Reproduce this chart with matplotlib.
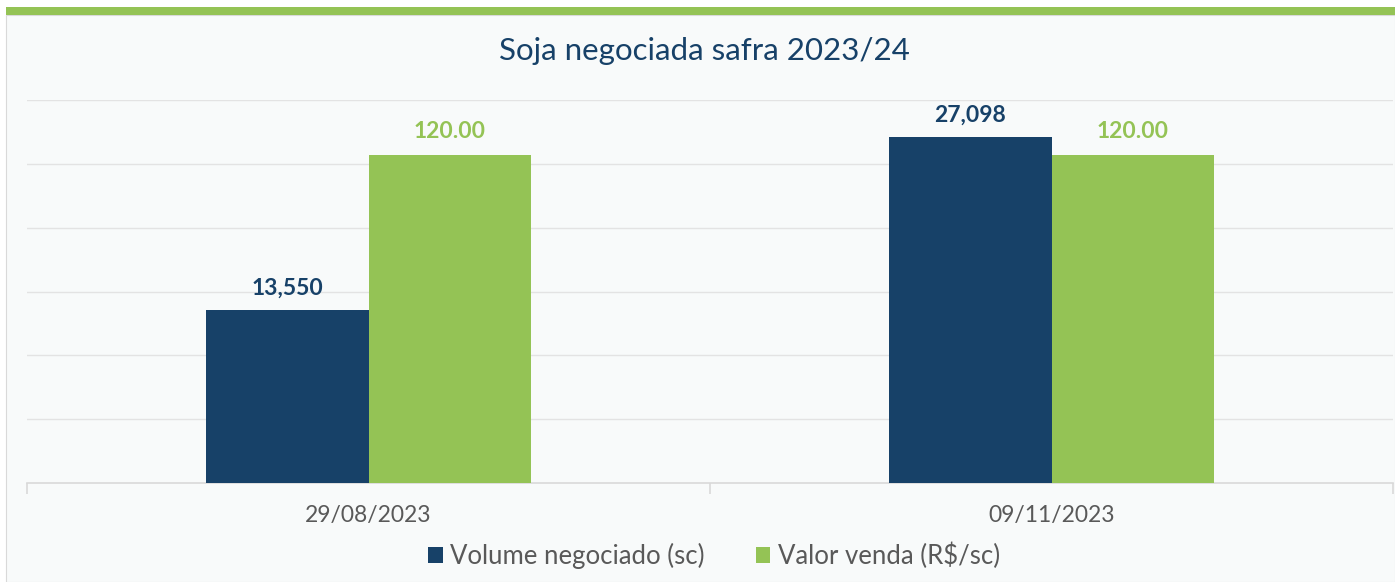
import numpy as np
import matplotlib.pyplot as plt
from matplotlib.patches import Rectangle

# данные
datas = ["29/08/2023", "09/11/2023"]
volume = [13550, 27098]
valor = [120.00, 120.00]
vol_labels = ["13,550", "27,098"]
val_labels = ["120.00", "120.00"]

azul = "#174168"
verde = "#94c355"

plt.rcParams['font.family'] = ['Lato', 'DejaVu Sans']

fig = plt.figure(figsize=(13.95, 5.82), dpi=100)
fig.patch.set_facecolor("white")

# фон панели и зелёная полоса сверху
fig.patches.append(Rectangle((6/1395, 0), 1 - 6/1395, 1 - 15/582, transform=fig.transFigure,
                             facecolor="#f8fafa", edgecolor="#d9d9d9", lw=0.8, zorder=-2))
fig.patches.append(Rectangle((6/1395, 1 - 15/582), 1 - 6/1395, 8/582, transform=fig.transFigure,
                             facecolor=verde, edgecolor="none", zorder=-1))

ax = fig.add_axes([27/1395, 99/582, 1366/1395, 383/582])
ax.set_facecolor("none")
ax2 = ax.twinx()

x = np.arange(len(datas))
w = 0.238
ax.bar(x - w/2, volume, w, color=azul, label="Volume negociado (sc)", zorder=3)
ax2.bar(x + w/2, valor, w, color=verde, label="Valor venda (R$/sc)", zorder=3)

ax.set_ylim(0, 30000)
ax2.set_ylim(0, 140)
ax.set_xlim(-0.5, 1.5)
ax.set_yticks(np.arange(5000, 30001, 5000))
ax.yaxis.grid(True, color="#e3e3e3", lw=1)
ax.set_axisbelow(True)
ax.tick_params(axis="y", left=False, labelleft=False)
ax2.tick_params(axis="y", right=False, labelright=False)
for a in (ax, ax2):
    for s in ["top", "right", "left", "bottom"]:
        a.spines[s].set_visible(False)
ax.spines["bottom"].set_visible(True)
ax.spines["bottom"].set_color("#d9d9d9")
ax.spines["bottom"].set_linewidth(1.2)

ax.set_xticks([-0.5, 0.5, 1.5], minor=True)
ax.tick_params(axis="x", which="minor", length=8, color="#d9d9d9", width=1.2)
ax.set_xticks(x)
ax.set_xticklabels(datas, fontsize=16.5, color="#595959")
ax.tick_params(axis="x", which="major", length=0, pad=16)

for i in range(len(datas)):
    ax.text(x[i] - w/2, volume[i] + 900, vol_labels[i], ha="center", va="bottom",
            fontsize=16.5, fontweight="bold", color=azul)
    ax2.text(x[i] + w/2, valor[i] + 4.5, val_labels[i], ha="center", va="bottom",
             fontsize=16.5, fontweight="bold", color=verde)

fig.text(0.505, 1 - 51/582, "Soja negociada safra 2023/24", ha="center", va="center",
         fontsize=22.5, color=azul)

h1, l1 = ax.get_legend_handles_labels()
h2, l2 = ax2.get_legend_handles_labels()
fig.legend(h1 + h2, l1 + l2, loc="center", bbox_to_anchor=(0.512, 1 - 556/582), ncol=2,
           frameon=False, fontsize=18.5, labelcolor="#595959", handlelength=0.55,
           handleheight=0.55, handletextpad=0.3, columnspacing=2.0)

fig.savefig("out.png", dpi=100, facecolor=fig.get_facecolor())
